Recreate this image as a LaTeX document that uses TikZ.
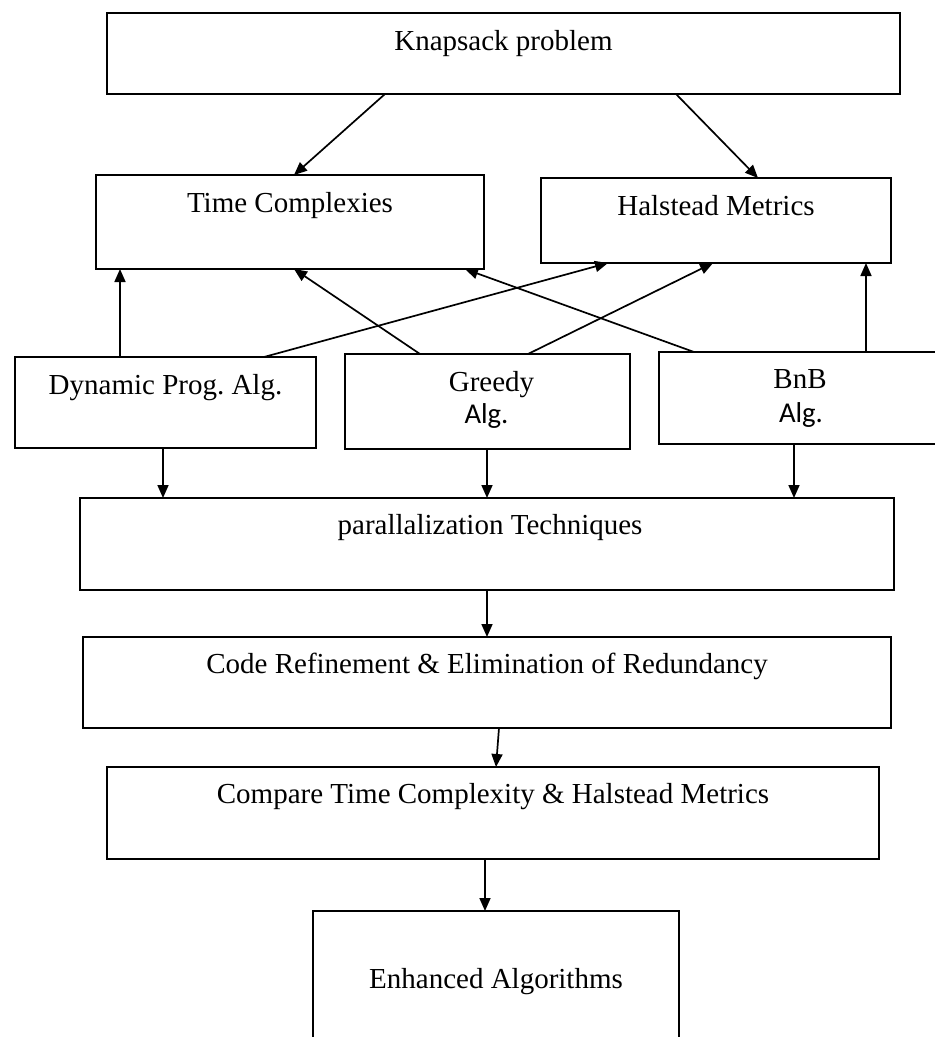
\documentclass[tikz,border=0pt]{standalone}
\usepackage{fontspec}
\setmainfont{Liberation Serif}
\newfontfamily\calibri{Carlito}
\usetikzlibrary{arrows.meta,calc}
\frenchspacing
\begin{document}
\begin{tikzpicture}[x=1pt,y=-1pt,
  box/.style={draw, line width=2pt, outer sep=0pt, inner sep=0pt, anchor=north west},
  lbl/.style={anchor=base, inner sep=0pt, font=\fontsize{29}{34}\selectfont},
  slbl/.style={anchor=base, inner sep=0pt, font=\calibri\fontsize{28.7}{34}\selectfont},
  arr/.style={line width=1.7pt, -{Triangle[length=13pt,width=11pt]}}]
\useasboundingbox (0,0) rectangle (935,1037);
\clip (0,0) rectangle (935,1037);
% boxes
\node[box, minimum width=793pt, minimum height=81pt] (kp) at (107,13) {};
\node[box, minimum width=388pt, minimum height=94pt] (tc) at (96,175) {};
\node[box, minimum width=350pt, minimum height=85pt] (hm) at (541,178) {};
\node[box, minimum width=301pt, minimum height=91pt] (dp) at (15,357) {};
\node[box, minimum width=285pt, minimum height=95pt] (gr) at (345,354) {};
\node[box, minimum width=300pt, minimum height=92pt] (bb) at (659,352) {};
\node[box, minimum width=814pt, minimum height=92pt] (pt) at (80,498) {};
\node[box, minimum width=808pt, minimum height=91pt] (cr) at (83,637) {};
\node[box, minimum width=772pt, minimum height=92pt] (cp) at (107,767) {};
\node[box, minimum width=366pt, minimum height=160pt] (ea) at (313,911) {};
% texts
\node[lbl] (kpt) at ([yshift=-37pt]kp.north) {Knapsack problem};
\node[lbl] (tct) at ([yshift=-37pt]tc.north) {Time Complexies};
\node[lbl] (hmt) at ([yshift=-37pt]hm.north) {Halstead Metrics};
\node[lbl] (dpt) at ([yshift=-37pt]dp.north) {Dynamic Prog. Alg.};
\node[lbl] (grt) at ([yshift=-37pt,xshift=4pt]gr.north) {Greedy};
\node[slbl] (grt2) at ([yshift=-69pt,xshift=-1pt]gr.north) {Alg.};
\node[lbl] (bbt1) at ([yshift=-36pt,xshift=141pt]bb.north west) {BnB};
\node[slbl] (bbt2) at ([yshift=-70pt,xshift=142pt]bb.north west) {Alg.};
\node[lbl] (ptt) at ([yshift=-36pt,xshift=3pt]pt.north) {parallalization Techniques};
\node[lbl] (crt) at ([yshift=-36pt]cr.north) {Code Refinement \& Elimination of Redundancy};
\node[lbl] (cpt) at ([yshift=-36pt]cp.north) {Compare Time Complexity \& Halstead Metrics};
\node[lbl] (eat) at ([yshift=-77pt]ea.north) {Enhanced Algorithms};
% connectors
\draw[arr] ([xshift=278pt]kp.south west) -- ([xshift=198pt]tc.north west);
\draw[arr] ([xshift=569pt]kp.south west) -- ([xshift=217pt]hm.north west);
\draw[arr] ([xshift=105pt]dp.north west) -- ([xshift=24pt]tc.south west);
\draw[arr] ([xshift=249pt]dp.north west) -- ([xshift=67pt]hm.south west);
\draw[arr] ([xshift=75pt]gr.north west) -- ([xshift=198pt]tc.south west);
\draw[arr] ([xshift=183pt]gr.north west) -- ([xshift=172pt]hm.south west);
\draw[arr] ([xshift=35pt]bb.north west) -- ([xshift=369pt]tc.south west);
\draw[arr] ([xshift=207pt]bb.north west) -- ([xshift=325pt]hm.south west);
\draw[arr] ([xshift=148pt]dp.south west) -- ([xshift=83pt]pt.north west);
\draw[arr] ([xshift=142pt]gr.south west) -- ([xshift=407pt]pt.north west);
\draw[arr] ([xshift=135pt]bb.south west) -- ([xshift=714pt]pt.north west);
\draw[arr] ([xshift=407pt]pt.south west) -- ([xshift=404pt]cr.north west);
\draw[arr] ([xshift=416pt]cr.south west) -- ([xshift=389pt]cp.north west);
\draw[arr] ([xshift=378pt]cp.south west) -- ([xshift=172pt]ea.north west);
\end{tikzpicture}
\end{document}
